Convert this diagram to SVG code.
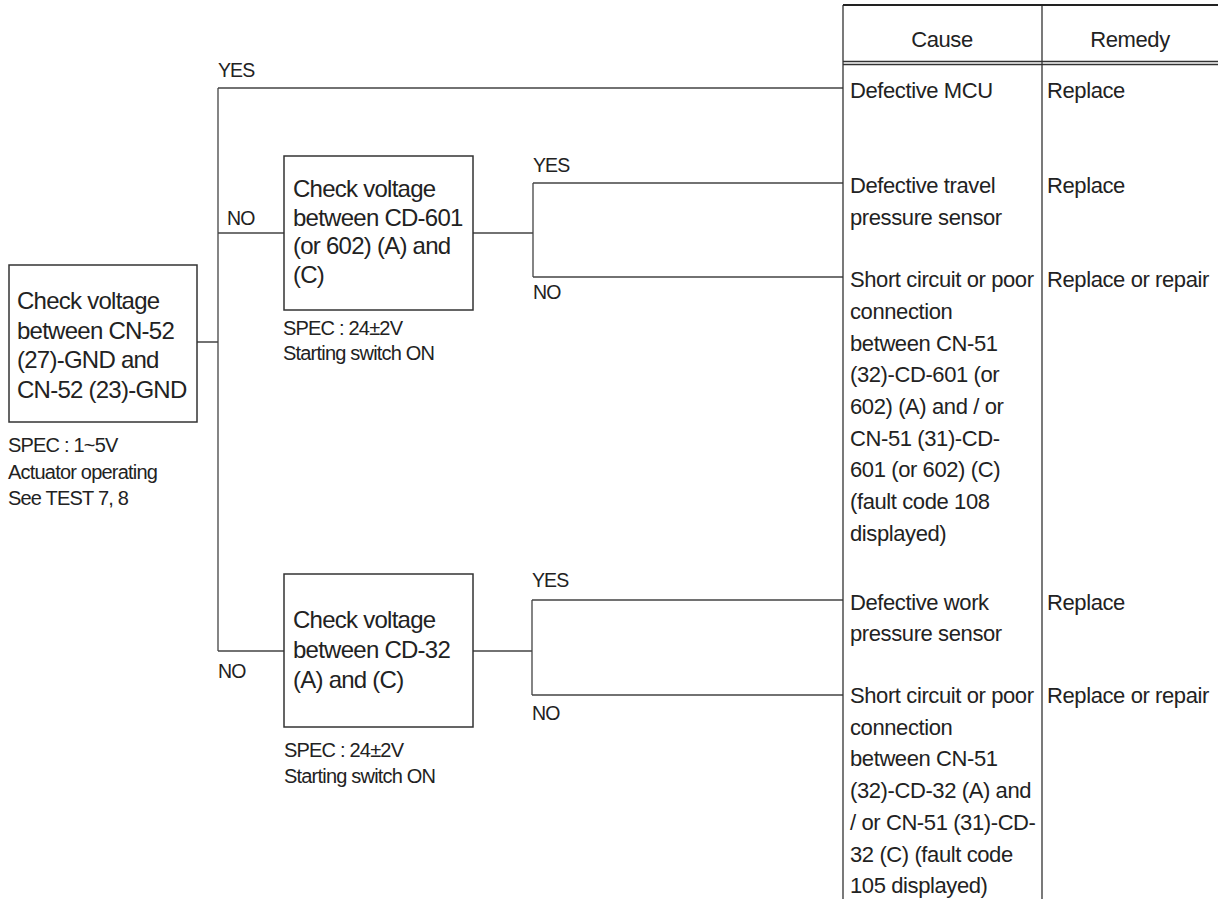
<svg xmlns="http://www.w3.org/2000/svg" width="1218" height="899" viewBox="0 0 1218 899">
<style>
.t{font-family:"Liberation Sans",Arial,sans-serif;fill:#222}
.box{font-size:24px;letter-spacing:-0.75px}
.cell{font-size:22px;letter-spacing:-0.4px}
.sm{font-size:20px;letter-spacing:-0.8px}
.lbl{font-size:19.5px;letter-spacing:-0.9px}
.node{fill:#fff;stroke:#333;stroke-width:1.5}
.con{fill:none;stroke:#444;stroke-width:1.3}
.tb{fill:none;stroke:#333;stroke-width:1.3}
</style>
<rect width="1218" height="899" fill="#fff"/>
<g id="connectors">
<path class="con" d="M197 342H218M218 88V651M218 88H843M218 233H284M218 651H284"/>
<path class="con" d="M473 233H533M533 183V277M533 183H843M533 277H843"/>
<path class="con" d="M473 651H532M532 600V695M532 600H843M532 695H843"/>
</g>
<g id="labels" class="t lbl">
<text x="218" y="77">YES</text>
<text x="227" y="225">NO</text>
<text x="218" y="678">NO</text>
<text x="533" y="172">YES</text>
<text x="533" y="299">NO</text>
<text x="532" y="587">YES</text>
<text x="532" y="720">NO</text>
</g>
<g id="node-main">
<rect class="node" x="9" y="265" width="188" height="157"/>
<text class="t box" x="17" y="308.5">Check voltage</text>
<text class="t box" x="17" y="338.5">between CN-52</text>
<text class="t box" x="17" y="368">(27)-GND and</text>
<text class="t box" x="17" y="398">CN-52 (23)-GND</text>
<text class="t sm" x="8" y="452">SPEC : 1~5V</text>
<text class="t sm" x="8" y="478.5">Actuator operating</text>
<text class="t sm" x="8" y="505">See TEST 7, 8</text>
</g>
<g id="node-cd601">
<rect class="node" x="284" y="156" width="189" height="154"/>
<text class="t box" x="293" y="197">Check voltage</text>
<text class="t box" x="293" y="225.5">between CD-601</text>
<text class="t box" x="293" y="254">(or 602) (A) and</text>
<text class="t box" x="293" y="282.5">(C)</text>
<text class="t sm" x="283" y="335">SPEC : 24±2V</text>
<text class="t sm" x="283" y="360">Starting switch ON</text>
</g>
<g id="node-cd32">
<rect class="node" x="284" y="574" width="189" height="153"/>
<text class="t box" x="293" y="628">Check voltage</text>
<text class="t box" x="293" y="658">between CD-32</text>
<text class="t box" x="293" y="688">(A) and (C)</text>
<text class="t sm" x="284" y="757">SPEC : 24±2V</text>
<text class="t sm" x="284" y="783">Starting switch ON</text>
</g>
<g id="table">
<path class="tb" d="M843 5V899M1042 5V899M843 61.5H1218M843 64.5H1218"/>
<path fill="none" stroke="#222" stroke-width="2" d="M843 5H1218"/>
<text class="t cell" x="942" y="47" text-anchor="middle">Cause</text>
<text class="t cell" x="1130" y="47" text-anchor="middle">Remedy</text>
</g>
<g id="row-mcu" class="t cell">
<text x="850" y="98">Defective MCU</text>
<text x="1047" y="98">Replace</text>
</g>
<g id="row-travel" class="t cell">
<text x="850" y="193">Defective travel</text>
<text x="850" y="225">pressure sensor</text>
<text x="1047" y="193">Replace</text>
</g>
<g id="row-short1" class="t cell">
<text x="850" y="287.3">Short circuit or poor</text>
<text x="850" y="319">connection</text>
<text x="850" y="350.7">between CN-51</text>
<text x="850" y="382.3">(32)-CD-601 (or</text>
<text x="850" y="414">602) (A) and / or</text>
<text x="850" y="445.7">CN-51 (31)-CD-</text>
<text x="850" y="477.3">601 (or 602) (C)</text>
<text x="850" y="509">(fault code 108</text>
<text x="850" y="540.7">displayed)</text>
<text x="1047" y="287.3">Replace or repair</text>
</g>
<g id="row-work" class="t cell">
<text x="850" y="610">Defective work</text>
<text x="850" y="641">pressure sensor</text>
<text x="1047" y="610">Replace</text>
</g>
<g id="row-short2" class="t cell">
<text x="850" y="703">Short circuit or poor</text>
<text x="850" y="734.7">connection</text>
<text x="850" y="766.4">between CN-51</text>
<text x="850" y="798.1">(32)-CD-32 (A) and</text>
<text x="850" y="829.8">/ or CN-51 (31)-CD-</text>
<text x="850" y="861.5">32 (C) (fault code</text>
<text x="850" y="893.2">105 displayed)</text>
<text x="1047" y="703">Replace or repair</text>
</g>
</svg>
